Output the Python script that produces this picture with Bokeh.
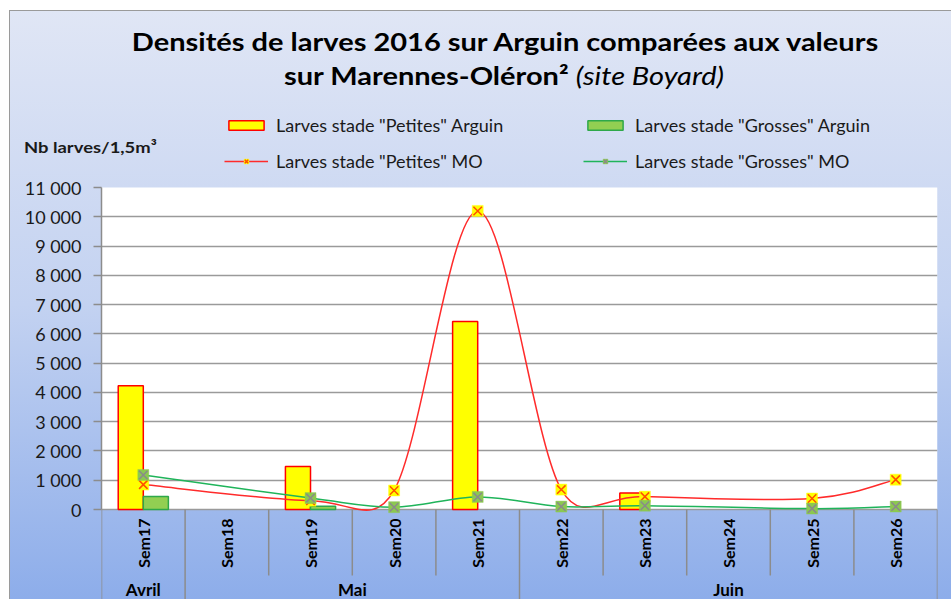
import math
from bokeh.plotting import figure
from bokeh.models import (Range1d, ColumnDataSource, Legend, LegendItem, FixedTicker, Div)
from bokeh.core.properties import value
from bokeh.embed import file_html
from bokeh.resources import INLINE

# ---------------- data ----------------
weeks = ["Sem17", "Sem18", "Sem19", "Sem20", "Sem21", "Sem22", "Sem23", "Sem24", "Sem25", "Sem26"]
months = ["Avril", "Mai", "Juin"]
weeks_per_month = [1, 4, 5]
petites_arguin = [4230, 0, 1470, 0, 6420, 0, 560, 0, 0, 0]
grosses_arguin = [440, 0, 110, 0, 0, 0, 0, 0, 0, 0]
petites_mo = [850, None, 300, 650, 10200, 680, 440, None, 375, 1020]
grosses_mo = [1180, None, 390, 80, 430, 100, 130, None, 30, 100]
y_ticks = [0, 1000, 2000, 3000, 4000, 5000, 6000, 7000, 8000, 9000, 10000, 11000]
y_tick_labels = ["0", "1 000", "2 000", "3 000", "4 000", "5 000", "6 000", "7 000",
                 "8 000", "9 000", "10 000", "11 000"]
legend_labels = ['Larves stade "Petites" Arguin', 'Larves stade "Grosses" Arguin',
                 'Larves stade "Petites" MO', 'Larves stade "Grosses" MO']
title_line1 = "Densités de larves 2016 sur Arguin comparées aux valeurs"
title_line2a = "sur Marennes-Oléron²"
title_line2b = "(site Boyard)"
y_label = "Nb larves/1,5m³"

Y_MAX = 11000
n = len(weeks)
centers = [i + 0.5 for i in range(n)]

# ---------------- layout (pixels) ----------------
W, H = 951, 599
ML, MR, MT = 101, 14, 95
PLOT_TOP, PLOT_BOTTOM = 187, 509           # white plotting area inside the frame
PLOT_H = PLOT_BOTTOM - PLOT_TOP
FW = W - ML - MR
UPP = Y_MAX / PLOT_H                       # data units per pixel (vertical)
Y_TOP = (PLOT_BOTTOM - MT) * UPP
Y_BOT = -(H - PLOT_BOTTOM) * UPP
FONT = "Lato"

p = figure(width=W, height=H, output_backend="svg", toolbar_location=None,
           x_range=Range1d(0, n), y_range=Range1d(Y_BOT, Y_TOP), x_axis_location=None,
           min_border_left=ML, min_border_right=MR, min_border_top=MT, min_border_bottom=0)
p.styles = {"background": ("linear-gradient(#9a9a9a,#9a9a9a) 9px 10px / 942px 1px no-repeat, "
                           "linear-gradient(#9a9a9a,#9a9a9a) 9px 10px / 1px 589px no-repeat, "
                           "linear-gradient(to bottom, #e0e6f5 0%, #c3d2f1 50%, #8dadea 100%) "
                           "9px 10px / 942px 589px no-repeat, white")}
p.border_fill_alpha = 0
p.background_fill_alpha = 0
p.outline_line_color = None

# white plotting area (0..Y_MAX)
p.quad(left=[0], right=[n], bottom=[0], top=[Y_MAX], fill_color="white",
       line_color=None, level="image")

# ---------------- bars ----------------
src_p = ColumnDataSource(dict(x=[c - 0.15 for c, v in zip(centers, petites_arguin) if v > 0],
                              top=[v for v in petites_arguin if v > 0]))
src_g = ColumnDataSource(dict(x=[c + 0.15 for c, v in zip(centers, grosses_arguin) if v > 0],
                              top=[v for v in grosses_arguin if v > 0]))
r_bp = p.vbar(x="x", top="top", width=0.3, source=src_p,
              fill_color="#ffff00", line_color="#ff0000", line_width=1.5)
r_bg = p.vbar(x="x", top="top", width=0.3, source=src_g,
              fill_color="#92cf52", line_color="#2ea84a", line_width=1.5)

# ---------------- smoothed lines (Excel-like bezier) ----------------
sx = FW / n
sy = 1 / UPP


def smooth_segments(vals):
    pts = [(c, v) for c, v in zip(centers, vals) if v is not None]
    P = [(x * sx, y * sy) for x, y in pts]
    m = len(P)
    segs = dict(x0=[], y0=[], x1=[], y1=[], cx0=[], cy0=[], cx1=[], cy1=[])
    for i in range(m - 1):
        p0 = P[i - 1] if i > 0 else P[i]
        p1, p2 = P[i], P[i + 1]
        p3 = P[i + 2] if i + 2 < m else P[i + 1]
        seg = math.hypot(p2[0] - p1[0], p2[1] - p1[1])
        t1 = [(p2[0] - p0[0]) / 6, (p2[1] - p0[1]) / 6]
        t2 = [(p3[0] - p1[0]) / 6, (p3[1] - p1[1]) / 6]
        for t in (t1, t2):
            L = math.hypot(*t)
            if L > seg * 0.5 and L > 0:
                k = seg * 0.5 / L
                t[0] *= k
                t[1] *= k
        c1 = (p1[0] + t1[0], p1[1] + t1[1])
        c2 = (p2[0] - t2[0], p2[1] - t2[1])
        segs["x0"].append(p1[0] / sx); segs["y0"].append(p1[1] / sy)
        segs["x1"].append(p2[0] / sx); segs["y1"].append(p2[1] / sy)
        segs["cx0"].append(c1[0] / sx); segs["cy0"].append(c1[1] / sy)
        segs["cx1"].append(c2[0] / sx); segs["cy1"].append(c2[1] / sy)
    return segs


def line_series(vals, line_color, sq_color, x_color):
    segs = smooth_segments(vals)
    r_l = p.bezier(x0="x0", y0="y0", x1="x1", y1="y1", cx0="cx0", cy0="cy0",
                   cx1="cx1", cy1="cy1", source=ColumnDataSource(segs),
                   line_color=line_color, line_width=1.5)
    ms = ColumnDataSource(dict(x=[c for c, v in zip(centers, vals) if v is not None],
                               y=[v for v in vals if v is not None]))
    r_s = p.scatter(x="x", y="y", source=ms, marker="square", size=11,
                    fill_color=sq_color, line_color=sq_color, line_alpha=0.4)
    r_x = p.scatter(x="x", y="y", source=ms, marker="x", size=12,
                    line_color=x_color, line_width=1.5)
    return [r_l, r_s, r_x]


r_lp = line_series(petites_mo, "#ff2b2b", "#ffff00", "#ff5000")
r_lg = line_series(grosses_mo, "#1fb45a", "#8cc850", "#8a8a8a")

# ---------------- y axis ----------------
ya = p.yaxis[0]
ya.ticker = FixedTicker(ticks=y_ticks)
ya.bounds = (0, Y_MAX)
ya.major_label_overrides = {t: l for t, l in zip(y_ticks, y_tick_labels)}
ya.axis_line_color = "#8c8c8c"
ya.axis_line_width = 1.5
ya.major_tick_line_color = "#8c8c8c"
ya.major_tick_line_width = 1.5
ya.major_tick_out = 8
ya.major_tick_in = 0
ya.minor_tick_line_color = None
ya.major_label_text_font = FONT
ya.major_label_text_font_size = "18px"
ya.major_label_text_color = "#1a1a1a"
ya.major_label_standoff = 12

p.ygrid.ticker = FixedTicker(ticks=[t for t in y_ticks if t < Y_MAX])
p.ygrid.grid_line_color = "#9a9a9a"
p.ygrid.grid_line_width = 1.5
p.xgrid.grid_line_color = None

# ---------------- category axis (weeks / months) drawn inside the frame ----------------
month_bounds = [0]
for k in weeks_per_month:
    month_bounds.append(month_bounds[-1] + k)
month_centers = [(a + b) / 2 for a, b in zip(month_bounds[:-1], month_bounds[1:])]
bounds = list(range(n + 1))
div_bottom = [Y_BOT if b in month_bounds else -66 * UPP for b in bounds]
p.segment(x0=bounds, y0=[0] * len(bounds), x1=bounds, y1=div_bottom,
          line_color="#8c8c8c", line_width=1.5)

p.text(x=centers, y=[0] * n, text=weeks, angle=math.pi / 2, y_offset=9,
       text_align="right", text_baseline="middle", text_font=value(FONT),
       text_font_style="bold", text_font_size="16px", text_color="black")
p.text(x=month_centers, y=[0] * len(months), text=months, y_offset=80,
       text_align="center", text_baseline="middle", text_font=value(FONT),
       text_font_style="bold", text_font_size="17px", text_color="black")

# ---------------- legend (inside the extended frame, above the plot area) ----------------
legend = Legend(items=[LegendItem(label=legend_labels[0], renderers=[r_bp]),
                       LegendItem(label=legend_labels[1], renderers=[r_bg]),
                       LegendItem(label=legend_labels[2], renderers=r_lp),
                       LegendItem(label=legend_labels[3], renderers=r_lg)],
                location=(123, H - 176), orientation="horizontal", ncols=2,
                background_fill_alpha=0, border_line_color=None,
                glyph_width=44, glyph_height=12, label_width=301, label_height=30,
                spacing=6, padding=10, label_standoff=8, margin=0,
                label_text_font=FONT, label_text_font_size="18px",
                label_text_color="#1a1a1a")
p.add_layout(legend, "center")

# ---------------- title & y label (HTML overlay) ----------------
tstyle = (f"position:absolute;transform:translateX(-50%) scaleX(1.16);"
          f"white-space:nowrap;font-family:{FONT};font-weight:bold;font-size:25px;"
          f"line-height:30px;color:black;")
html = (
    f'<div style="left:500px;top:21px;{tstyle}">{title_line1}</div>'
    f'<div style="left:499px;top:55px;{tstyle}">{title_line2a} '
    f'<span style="font-weight:normal;font-style:italic;">{title_line2b}</span></div>'
    f'<div style="position:absolute;left:19px;top:133px;white-space:nowrap;'
    f'transform-origin:left center;transform:scaleX(1.15);'
    f'font-family:{FONT};font-weight:bold;font-size:16px;line-height:18px;'
    f'color:#1a1a1a;">{y_label}</div>'
)
div = Div(text=html, width=W, height=170,
          styles={"position": "absolute", "left": "0px", "top": "0px",
                  "z-index": "5", "pointer-events": "none"})

open("out.html", "w").write(file_html([p, div], INLINE))
